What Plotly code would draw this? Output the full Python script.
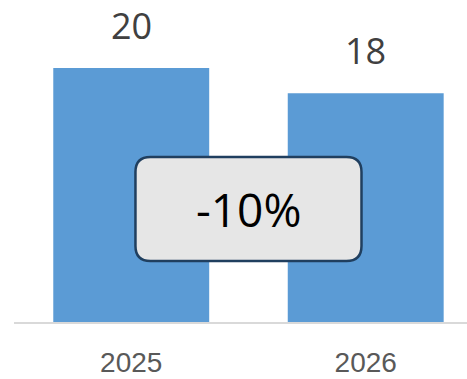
import plotly.graph_objects as go

categories = ["2025", "2026"]
values = [20, 18]
change_label = "-10%"

bar_color = "#5B9BD5"

fig = go.Figure()
fig.add_trace(go.Bar(x=[0, 1], y=values, marker=dict(color=bar_color, line=dict(width=0)),
                     width=0.665, hoverinfo="skip"))

# value labels
for i, v in enumerate(values):
    fig.add_annotation(x=i, y=v, text=str(v), showarrow=False, yanchor="bottom",
                       yshift=16, font=dict(family="Open Sans", size=36, color="#404040"))

# rounded box with change label
cx, cy = 0.5, 8.9
hw, hh = 0.482, 4.09
rx, ry = 0.064, 1.18
x0, x1, y0, y1 = cx - hw, cx + hw, cy - hh, cy + hh
path = (f"M {x0+rx},{y1} L {x1-rx},{y1} Q {x1},{y1} {x1},{y1-ry} "
        f"L {x1},{y0+ry} Q {x1},{y0} {x1-rx},{y0} L {x0+rx},{y0} "
        f"Q {x0},{y0} {x0},{y0+ry} L {x0},{y1-ry} Q {x0},{y1} {x0+rx},{y1} Z")
fig.add_shape(type="path", path=path, xref="x", yref="y", fillcolor="#E6E6E6",
              line=dict(color="#203F5F", width=2.5), layer="above")
fig.add_annotation(x=cx, y=cy, text=change_label, showarrow=False,
                   font=dict(family="Open Sans", size=46, color="#000000"))

fig.update_layout(
    width=467, height=379, margin=dict(l=14, r=0, t=0, b=57, autoexpand=False),
    paper_bgcolor="white", plot_bgcolor="white", showlegend=False,
    xaxis=dict(range=[-0.5, 1.432], tickvals=[0, 1], ticktext=categories,
               showgrid=False, zeroline=False, showline=True, linecolor="#D9D9D9",
               linewidth=2, ticks="", ticklabelstandoff=14, automargin=False,
               tickfont=dict(family="Liberation Sans", size=28, color="#595959")),
    yaxis=dict(range=[0, 25.35], visible=False, fixedrange=True),
)

fig.write_html("out.html")
